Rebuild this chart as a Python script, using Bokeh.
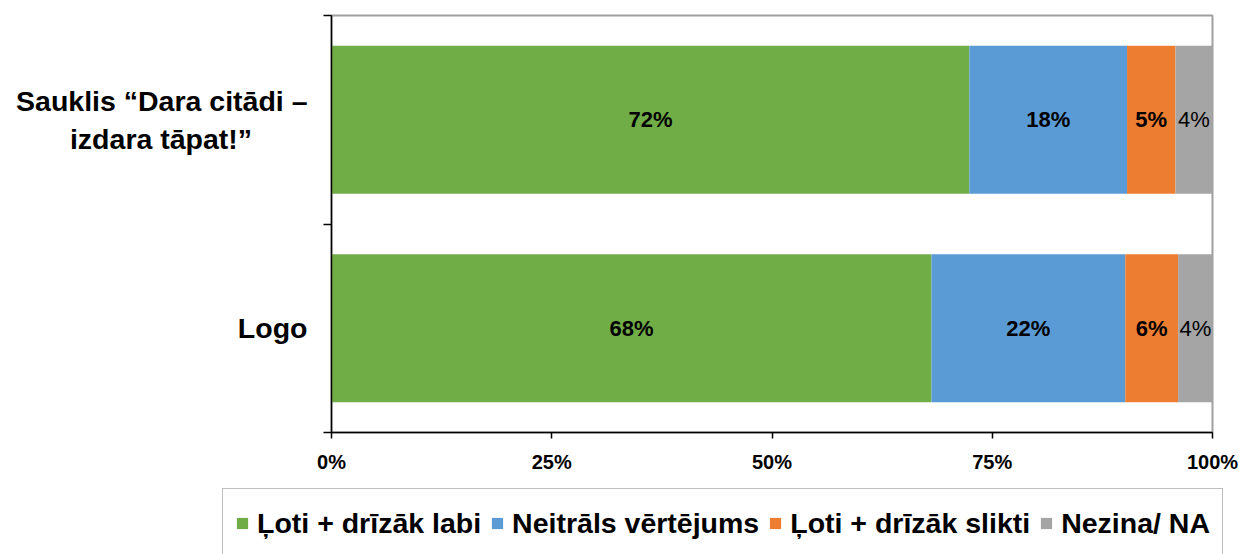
from bokeh.plotting import figure
from bokeh.layouts import column
from bokeh.models import FixedTicker, Legend, LegendItem, Range1d
from bokeh.core.properties import value
from bokeh.embed import file_html
from bokeh.resources import INLINE

# ---- data ----
categories = ["Logo", "Sauklis “Dara citādi –\nizdara tāpat!”\u00a0\u00a0\u00a0\u00a0\u00a0\u00a0\u00a0"]
series_names = ["Ļoti + drīzāk labi", "Neitrāls vērtējums", "Ļoti + drīzāk slikti", "Nezina/ NA"]
labi = [68.1, 72.4]
neitrals = [22.0, 17.9]
slikti = [6.0, 5.5]
nezina = [3.9, 4.2]
labels_labi = ["68%", "72%"]
labels_neitrals = ["22%", "18%"]
labels_slikti = ["6%", "5%"]
labels_nezina = ["4%", "4%"]
x_ticks = [0, 25, 50, 75, 100]
x_tick_labels = ["0%", "25%", "50%", "75%", "100%"]

colors = ["#70AD47", "#5B9BD5", "#ED7D31", "#A5A5A5"]
series = [labi, neitrals, slikti, nezina]
series_labels = [labels_labi, labels_neitrals, labels_slikti, labels_nezina]
label_styles = ["bold", "bold", "bold", "normal"]
FONT = "Liberation Sans"

ys = [i + 0.5 for i in range(len(categories))]

p = figure(width=1239, height=480, x_range=Range1d(0, 100), y_range=Range1d(0, len(categories)),
           output_backend="svg", toolbar_location=None,
           min_border_left=331, min_border_right=27, min_border_top=15, min_border_bottom=48)
p.frame_align = False

p.xgrid.visible = False
p.ygrid.visible = False
p.outline_line_color = "#A0A0A0"
p.outline_line_width = 2

# ---- legend strip: its own figure, so the legend box is not clipped by the chart frame ----
pl = figure(width=1239, height=74, x_range=Range1d(200, 300), y_range=Range1d(10, 12),
            output_backend="svg", toolbar_location=None,
            x_axis_location=None, y_axis_location=None, min_border=0)
pl.frame_align = False
pl.grid.visible = False
pl.outline_line_color = None

legend_renderers = []
lefts = [0.0] * len(categories)
for vals, col, labs, style in zip(series, colors, series_labels, label_styles):
    rights = [l + v for l, v in zip(lefts, vals)]
    p.hbar(y=ys, left=lefts, right=rights, height=0.71, fill_color=col, line_color=None)
    # same bars in the legend strip (outside its visible ranges) to provide legend glyphs
    legend_renderers.append(pl.hbar(y=ys, left=lefts, right=rights, height=0.71,
                                    fill_color=col, line_color=None))
    centers = [(l + rr) / 2 for l, rr in zip(lefts, rights)]
    p.text(x=centers, y=ys, text=labs, text_align="center", text_baseline="middle",
           text_font=value(FONT), text_font_size="22px", text_font_style=style, text_color="black")
    lefts = rights

# x axis
xa = p.xaxis[0]
xa.ticker = FixedTicker(ticks=x_ticks, minor_ticks=[])
xa.major_label_overrides = {t: l for t, l in zip(x_ticks, x_tick_labels)}
xa.major_tick_out = 6
xa.major_tick_in = 0
xa.minor_tick_out = 0
xa.minor_tick_in = 0
xa.axis_line_color = "black"
xa.axis_line_width = 1.5
xa.major_tick_line_color = "black"
xa.major_tick_line_width = 1.5
xa.major_label_text_font = FONT
xa.major_label_text_font_size = "20px"
xa.major_label_text_font_style = "bold"
xa.major_label_text_color = "black"
xa.major_label_standoff = 12

# y axis
ya = p.yaxis[0]
ya.ticker = FixedTicker(ticks=ys, minor_ticks=list(range(len(categories) + 1)))
ya.major_label_overrides = {y: c for y, c in zip(ys, categories)}
ya.major_tick_out = 0
ya.major_tick_in = 0
ya.minor_tick_out = 8
ya.minor_tick_in = 0
ya.minor_tick_line_color = "black"
ya.minor_tick_line_width = 1.5
ya.axis_line_color = "black"
ya.axis_line_width = 1.5
ya.major_label_text_font = FONT
ya.major_label_text_font_size = "28.5px"
ya.major_label_text_font_style = "bold"
ya.major_label_text_color = "black"
ya.major_label_standoff = 16

legend = Legend(
    items=[LegendItem(label=n, renderers=[r]) for n, r in zip(series_names, legend_renderers)],
    orientation="horizontal", location=(222, -4),
    label_text_font=FONT, label_text_font_size="28.5px", label_text_font_style="bold",
    label_text_color="black",
    glyph_width=14, glyph_height=14, label_standoff=8, spacing=9, padding=12,
    label_height=44, border_line_color="#7F7F7F", border_line_width=1.5,
    background_fill_color="white", background_fill_alpha=1.0, margin=0,
)
pl.add_layout(legend, "center")

layout = column(p, pl, spacing=0)
open("out.html", "w").write(file_html(layout, INLINE))
